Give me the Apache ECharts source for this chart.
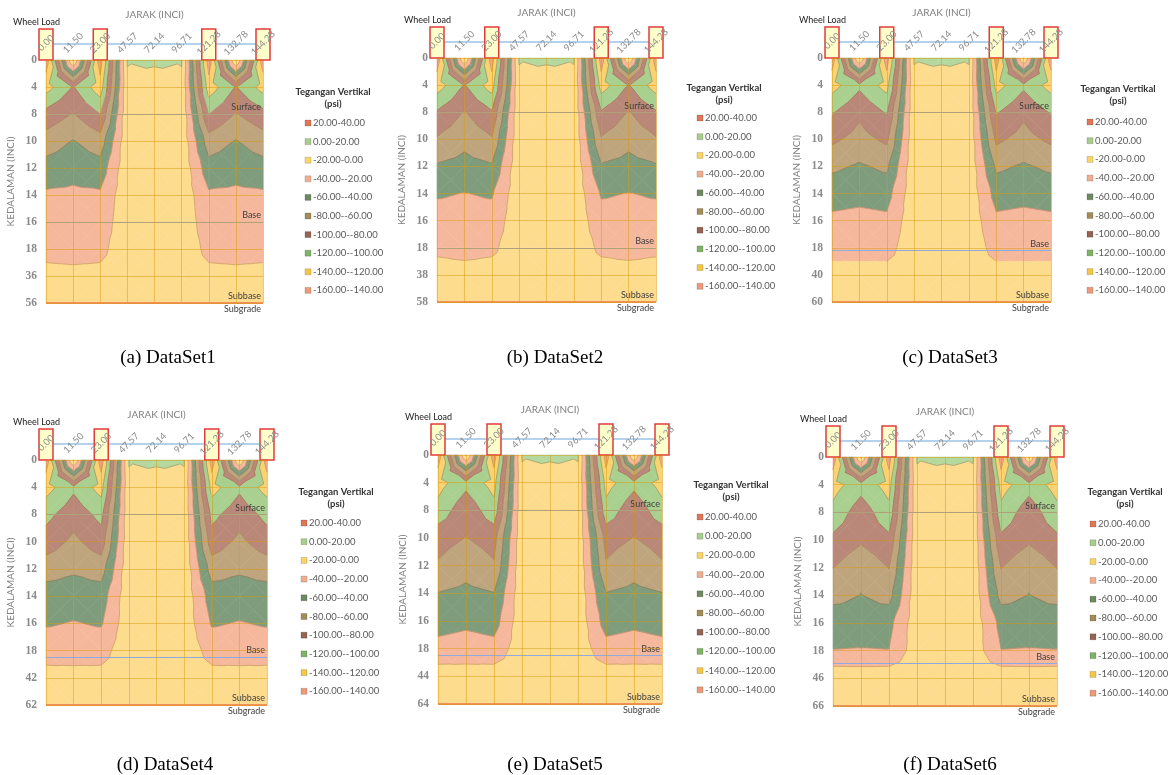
<!DOCTYPE html>
<html>
<head>
<meta charset="utf-8">
<title>Tegangan Vertikal</title>
<script src="https://cdn.jsdelivr.net/npm/echarts@6/dist/echarts.min.js"></script>
<style>
  html, body { margin: 0; background: #fff; }
  #chart { width: 1168px; height: 775px; }
</style>
</head>
<body>
<div id="chart"></div>
<script>
// x categories (jarak, inci)
const jarakLabels = ["0.00", "11.50", "23.00", "47.57", "72.14", "96.71", "121.28", "132.78", "144.28"];
// y categories (kedalaman, inci) per dataset
const depthLabels1 = ["0", "4", "8", "10", "12", "14", "16", "18", "36", "56"];
const depthLabels2 = ["0", "4", "8", "10", "12", "14", "16", "18", "38", "58"];
const depthLabels3 = ["0", "4", "8", "10", "12", "14", "16", "18", "40", "60"];
const depthLabels4 = ["0", "4", "8", "10", "12", "14", "16", "18", "42", "62"];
const depthLabels5 = ["0", "4", "8", "10", "12", "14", "16", "18", "44", "64"];
const depthLabels6 = ["0", "4", "8", "10", "12", "14", "16", "18", "46", "66"];

// contour levels (psi), low -> high
const bandLevels = [-160, -140, -120, -100, -80, -60, -40, -20, 0, 20, 40];
const bandNames = ["20.00-40.00", "0.00-20.00", "-20.00-0.00", "-40.00--20.00", "-60.00--40.00",
  "-80.00--60.00", "-100.00--80.00", "-120.00--100.00", "-140.00--120.00", "-160.00--140.00"];

// vertical stress (psi), rows = depth, cols = jarak
const stress1 = [
  [-150,    2, -150,  1,   4,  1, -150,    2, -150],
  [-128,  -99, -132, -3, -12, -3, -132,  -99, -128],
  [ -93,  -79, -100, -4, -13, -4, -100,  -79,  -93],
  [ -71,  -59,  -71, -5, -13, -5,  -71,  -59,  -71],
  [ -52,  -47,  -52, -5, -14, -5,  -52,  -47,  -52],
  [ -37,  -36,  -37, -6, -14, -6,  -37,  -36,  -37],
  [ -31,  -31,  -31, -7, -14, -7,  -31,  -31,  -31],
  [ -25,  -27,  -25, -8, -13, -8,  -25,  -27,  -25],
  [ -15,  -15,  -15, -9, -12, -9,  -15,  -15,  -15],
  [  -8,   -8,   -8, -8, -10, -8,   -8,   -8,   -8]
];
const stress2 = [
  [-150,    2, -150,  1,   4,  1, -150,    2, -150],
  [-130,  -99, -130, -3, -12, -3, -130,  -99, -130],
  [ -98,  -79,  -98, -4, -13, -4,  -98,  -79,  -98],
  [ -78,  -66,  -78, -5, -13, -5,  -78,  -66,  -78],
  [ -58,  -53,  -58, -5, -14, -5,  -58,  -53,  -58],
  [ -42,  -39.5,-42, -6, -14, -6,  -42,  -39.5,-42],
  [ -32,  -33,  -32, -7, -14, -7,  -32,  -33,  -32],
  [ -24,  -27,  -24, -8, -13, -8,  -24,  -27,  -24],
  [ -12,  -12,  -12, -9, -12, -9,  -12,  -12,  -12],
  [  -7,   -6,   -7, -8, -10, -8,   -7,   -6,   -7]
];
const stress3 = [
  [-150,    2, -150,  1,   4,  1, -150,    2, -150],
  [-128, -104, -128, -3, -12, -3, -128, -104, -128],
  [-102,  -84, -102, -4, -13, -4, -102,  -84, -102],
  [ -84,  -73,  -84, -5, -13, -5,  -84,  -73,  -84],
  [ -64,  -57.5,-64, -5, -14, -5,  -64,  -57.5,-64],
  [ -48,  -46,  -48, -6, -14, -6,  -48,  -46,  -48],
  [ -36,  -34,  -36, -7, -14, -7,  -36,  -34,  -36],
  [ -27,  -27,  -27, -8, -13, -8,  -27,  -27,  -27],
  [ -13,  -13,  -13, -9, -12, -9,  -13,  -13,  -13],
  [  -7,   -7,   -7, -8, -10, -8,   -7,   -7,   -7]
];
const stress4 = [
  [-150,    2, -150,  1,   4,  1, -150,    2, -150],
  [-128, -104, -128, -3, -12, -3, -128, -104, -128],
  [-106,  -88, -106, -4, -13, -4, -106,  -88, -106],
  [ -91,  -75.5,-91, -5, -13, -5,  -91,  -75.5,-91],
  [ -69,  -63,  -69, -5, -14, -5,  -69,  -63,  -69],
  [ -50,  -50,  -50, -6, -14, -6,  -50,  -50,  -50],
  [ -42,  -39,  -42, -7, -14, -7,  -42,  -39,  -42],
  [ -27,  -30,  -27, -8, -13, -8,  -27,  -30,  -27],
  [ -14,  -12,  -14, -9, -12, -9,  -14,  -12,  -14],
  [  -8,   -7,   -8, -8, -10, -8,   -8,   -7,   -8]
];
const stress5 = [
  [-150,    2, -150,  1,   4,  1, -150,    2, -150],
  [-128, -106, -128, -3, -12, -3, -128, -106, -128],
  [-113,  -86, -113, -4, -13, -4, -113,  -86, -113],
  [ -87,  -79.5,-87, -5, -13, -5,  -87,  -79.5,-87],
  [ -78,  -68,  -78, -5, -14, -5,  -78,  -68,  -78],
  [ -59.5,-55, -59.5,-6, -14, -6, -59.5, -55, -59.5],
  [ -49,  -45,  -49, -7, -14, -7,  -49,  -45,  -49],
  [ -33,  -30,  -33, -8, -13, -8,  -33,  -30,  -33],
  [ -10,  -12,  -10, -9, -12, -9,  -10,  -12,  -10],
  [  -7,   -7,   -7, -8, -10, -8,   -7,   -7,   -7]
];
const stress6 = [
  [-150,    2, -150,  1,   4,  1, -150,    2, -150],
  [-128, -108, -128, -3, -12, -3, -128, -108, -128],
  [-114,  -89, -114, -4, -13, -4, -114,  -89, -114],
  [ -95,  -83,  -95, -5, -13, -5,  -95,  -83,  -95],
  [ -80.5,-65, -80.5,-5, -14, -5, -80.5, -65, -80.5],
  [ -67,  -59.5,-67, -6, -14, -6,  -67,  -59.5,-67],
  [ -46,  -50,  -46, -7, -14, -7,  -46,  -50,  -46],
  [ -39.6,-39, -39.6,-8, -13, -8, -39.6, -39, -39.6],
  [  -5,   -6,   -5, -7, -12, -7,   -5,   -6,   -5],
  [  -4,   -4,   -4, -6, -10, -6,   -4,   -4,   -4]
];

// wheel load positions (category index on jarak axis)
const wheelLoadIdx = [0, 2, 6, 8];
// layer boundaries (position on depth axis)
const surfaceAt = [2, 2, 2, 2, 2, 2];
const baseAt = [6, 7, 7.09, 7.24, 7.24, 7.45];
const captions = ["(a) DataSet1", "(b) DataSet2", "(c) DataSet3", "(d) DataSet4", "(e) DataSet5", "(f) DataSet6"];

const stressSets = [stress1, stress2, stress3, stress4, stress5, stress6];
const depthSets = [depthLabels1, depthLabels2, depthLabels3, depthLabels4, depthLabels5, depthLabels6];

// band fill colours, low -> high
const bandColors = ["#F2A587", "#FAD272", "#A9D08F", "#BA8878", "#BFA57E", "#7F9D7C",
  "#F6B89C", "#FEDC8E", "#B5D89E", "#E8805E"];
const legendColors = ["#E27658", "#A8CD8C", "#F9D466", "#F0AE90", "#6E8A62", "#A38C57",
  "#966452", "#7DB467", "#F5C646", "#EE9A7A"]; // top -> bottom

// panel layout
const panels = [
  { grid: { left: 46, top: 60, width: 217, height: 243 }, legend: { cx: 333, ty: 86, sx: 308, y0: 123, step: 18.6 }, cap: { x: 163, y: 344 } },
  { grid: { left: 437, top: 58, width: 219, height: 244 }, legend: { cx: 724, ty: 82, sx: 700, y0: 118, step: 18.7 }, cap: { x: 550, y: 344 } },
  { grid: { left: 832, top: 58, width: 219, height: 244 }, legend: { cx: 1118, ty: 83, sx: 1090, y0: 122, step: 18.7 }, cap: { x: 945, y: 344 } },
  { grid: { left: 46, top: 460, width: 221, height: 245 }, legend: { cx: 336, ty: 486, sx: 304, y0: 523, step: 18.7 }, cap: { x: 160, y: 751 } },
  { grid: { left: 438, top: 455, width: 224, height: 249 }, legend: { cx: 731, ty: 479, sx: 700, y0: 517, step: 19.2 }, cap: { x: 550, y: 751 } },
  { grid: { left: 833, top: 457, width: 224, height: 249 }, legend: { cx: 1125, ty: 486, sx: 1093, y0: 524, step: 18.8 }, cap: { x: 945, y: 751 } }
];

function clip(poly, level, keepAbove) {
  const out = [];
  const inside = (p) => (keepAbove ? p.v >= level : p.v <= level);
  for (let k = 0; k < poly.length; k++) {
    const p = poly[k];
    const q = poly[(k + 1) % poly.length];
    const pin = inside(p);
    const qin = inside(q);
    if (pin) out.push(p);
    if (pin !== qin) {
      const f = (level - p.v) / (q.v - p.v);
      out.push({ x: p.x + f * (q.x - p.x), y: p.y + f * (q.y - p.y), v: level });
    }
  }
  return out;
}

function contourItem(values) {
  return function (params, api) {
    const i = api.value(0);
    const j = api.value(1);
    const corner = (ci, cj) => {
      const pt = api.coord([ci, cj]);
      return { x: pt[0], y: pt[1], v: values[cj][ci] };
    };
    const a = corner(i, j), b = corner(i + 1, j), c = corner(i + 1, j + 1), d = corner(i, j + 1);
    const m = {
      x: (a.x + b.x + c.x + d.x) / 4,
      y: (a.y + b.y + c.y + d.y) / 4,
      v: (a.v + b.v + c.v + d.v) / 4
    };
    const tris = [[a, b, m], [b, c, m], [c, d, m], [d, a, m]];
    const children = [];
    tris.forEach((t) => {
      for (let k = 0; k < bandColors.length; k++) {
        let poly = clip(t, bandLevels[k], true);
        poly = clip(poly, bandLevels[k + 1], false);
        if (poly.length >= 3) {
          children.push({
            type: "polygon",
            shape: { points: poly.map((p) => [p.x, p.y]) },
            style: { fill: bandColors[k], stroke: bandColors[k], lineWidth: 0.6 },
            silent: true
          });
        }
      }
    });
    // band edges
    tris.forEach((t) => {
      for (let k = 1; k < bandLevels.length - 1; k++) {
        const L = bandLevels[k];
        const pts = [];
        for (let e = 0; e < 3; e++) {
          const p = t[e], q = t[(e + 1) % 3];
          if ((p.v - L) * (q.v - L) < 0) {
            const f = (L - p.v) / (q.v - p.v);
            pts.push([p.x + f * (q.x - p.x), p.y + f * (q.y - p.y)]);
          }
        }
        if (pts.length === 2) {
          children.push({
            type: "line",
            shape: { x1: pts[0][0], y1: pts[0][1], x2: pts[1][0], y2: pts[1][1] },
            style: { stroke: "rgba(140,80,40,0.45)", lineWidth: 0.8 },
            silent: true
          });
        }
      }
    });
    return { type: "group", children: children };
  };
}

function wheelLoadItem(params, api) {
  const first = api.coord([0, 0]);
  const last = api.coord([jarakLabels.length - 1, 0]);
  const children = [
    {
      type: "line",
      shape: { x1: first[0], y1: first[1] - 16, x2: last[0], y2: last[1] - 16 },
      style: { stroke: "#9DC3E6", lineWidth: 1.5 }
    },
    {
      type: "text",
      x: first[0] - 33, y: first[1] - 38,
      style: { text: "Wheel Load", fill: "#222", fontSize: 9, fontFamily: "Lato", textVerticalAlign: "middle" }
    }
  ];
  wheelLoadIdx.forEach((w) => {
    const p = api.coord([w, 0]);
    children.push({
      type: "rect",
      shape: { x: p[0] - 7, y: p[1] - 31, width: 14, height: 31 },
      style: { fill: "#FFFFCC", stroke: "#E23B3B", lineWidth: 1.5 }
    });
  });
  return { type: "group", children: children };
}

const grids = [], xAxes = [], yAxes = [], series = [], graphics = [], titles = [];
const gridLine = { show: true, lineStyle: { color: "rgba(215,150,0,0.45)", width: 1 } };

panels.forEach((pn, p) => {
  const values = stressSets[p];
  const depth = depthSets[p];
  grids.push(pn.grid);
  xAxes.push({
    gridIndex: p, type: "value", position: "top", min: 0, max: jarakLabels.length - 1, interval: 1, z: 10,
    name: "JARAK (INCI)", nameLocation: "middle", nameGap: 40,
    nameTextStyle: { color: "#7f7f7f", fontSize: 10, fontFamily: "Lato" },
    axisLine: { show: false }, axisTick: { show: false },
    axisLabel: {
      formatter: (v) => jarakLabels[v], rotate: 45, color: "#8c8c8c", fontSize: 9.5, fontFamily: "Lato",
      margin: 17, align: "center", verticalAlign: "middle"
    },
    splitLine: gridLine
  });
  yAxes.push({
    gridIndex: p, type: "value", inverse: true, min: 0, max: depth.length - 1, interval: 1, z: 10,
    name: "KEDALAMAN (INCI)", nameLocation: "middle", nameGap: 30,
    nameTextStyle: { color: "#7f7f7f", fontSize: 10, fontFamily: "Lato" },
    axisLine: { show: false }, axisTick: { show: false },
    axisLabel: { formatter: (v) => depth[v], color: "#8a8a8a", fontSize: 11.5, fontWeight: "bold", fontFamily: "Liberation Serif", margin: 9 },
    splitLine: gridLine
  });

  const cells = [];
  for (let j = 0; j < values.length - 1; j++) {
    for (let i = 0; i < values[j].length - 1; i++) {
      cells.push([i, j, values[j][i]]);
    }
  }
  series.push({
    type: "custom", name: "stress" + (p + 1), xAxisIndex: p, yAxisIndex: p, z: 2,
    renderItem: contourItem(values), encode: { x: 0, y: 1 }, data: cells, silent: true
  });
  series.push({
    type: "custom", name: "wheel" + (p + 1), xAxisIndex: p, yAxisIndex: p, z: 3,
    renderItem: wheelLoadItem, encode: { x: 0, y: 1 }, data: [[0, 0]], silent: true, clip: false
  });
  const layerLabel = (txt, pos) => ({
    show: true, formatter: txt, position: pos, color: "#404040", fontSize: 9, fontFamily: "Lato", distance: 2
  });
  series.push({
    type: "line", name: "layers" + (p + 1), xAxisIndex: p, yAxisIndex: p, z: 20, data: [], silent: true,
    markLine: {
      silent: true, symbol: "none", animation: false,
      data: [
        { yAxis: surfaceAt[p], label: layerLabel("Surface", "insideEndTop"), lineStyle: { color: "#8FAADC", width: 1.2, type: "solid" } },
        { yAxis: baseAt[p], label: layerLabel("Base", "insideEndTop"), lineStyle: { color: "#8FAADC", width: 1.2, type: "solid" } },
        { yAxis: depth.length - 1, label: layerLabel("Subbase", "insideEndTop"), lineStyle: { color: "#F08C5A", width: 1.5, type: "solid" } },
        { yAxis: depth.length - 1, label: layerLabel("Subgrade", "insideEndBottom"), lineStyle: { color: "#F08C5A", width: 1.5, type: "solid" } }
      ]
    }
  });

  // legend
  const lg = pn.legend;
  const items = [{
    type: "text", x: lg.cx, y: lg.ty,
    style: { text: "Tegangan Vertikal\n(psi)", fill: "#333", fontSize: 9.5, fontWeight: "bold", fontFamily: "Lato", align: "center", lineHeight: 12 }
  }];
  bandNames.forEach((nm, k) => {
    const yy = lg.y0 + k * lg.step;
    items.push({
      type: "rect", shape: { x: lg.sx - 3, y: yy - 3, width: 6, height: 6 },
      style: { fill: legendColors[k], stroke: "rgba(0,0,0,0.25)", lineWidth: 0.6 }
    });
    items.push({
      type: "text", x: lg.sx + 5, y: yy,
      style: { text: nm, fill: "#595959", fontSize: 9.5, fontFamily: "Lato", verticalAlign: "middle" }
    });
  });
  graphics.push({ type: "group", children: items });

  titles.push({
    text: captions[p], left: pn.cap.x, top: pn.cap.y, textAlign: "center",
    textStyle: { fontFamily: "Liberation Serif", fontSize: 19, fontWeight: "normal", color: "#000" }
  });
});

const chart = echarts.init(document.getElementById("chart"));
chart.setOption({
  animation: false,
  backgroundColor: "#fff",
  title: titles,
  grid: grids,
  xAxis: xAxes,
  yAxis: yAxes,
  series: series,
  graphic: graphics
});
</script>
</body>
</html>
